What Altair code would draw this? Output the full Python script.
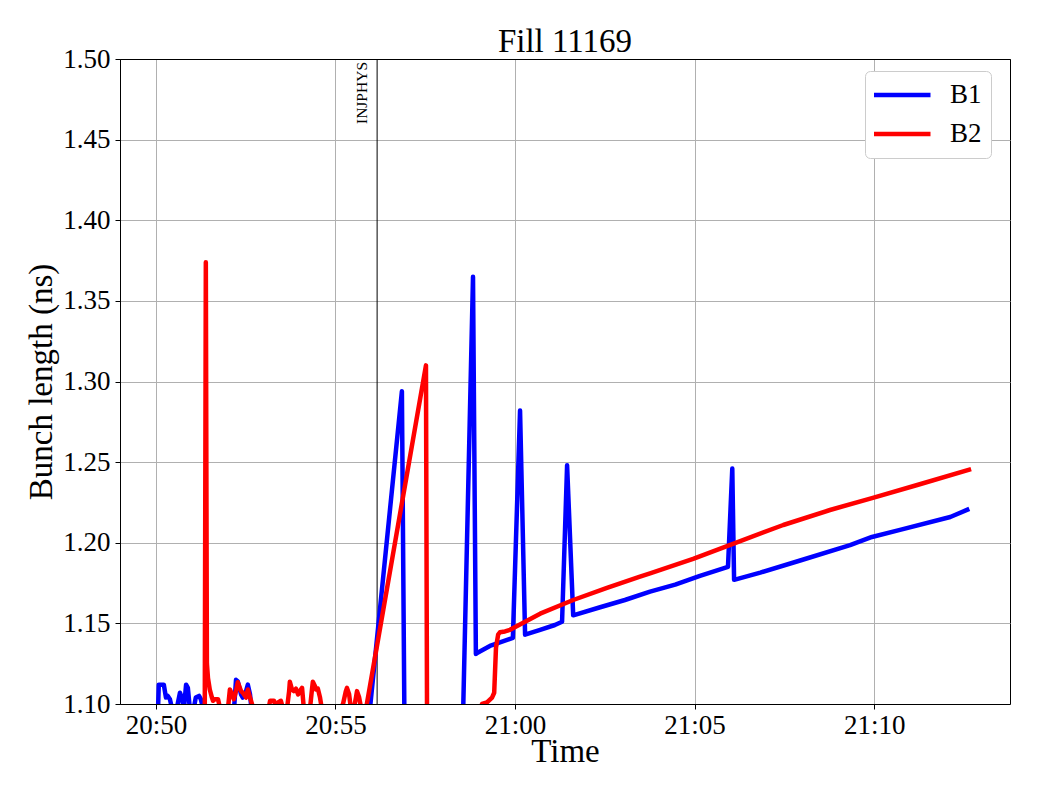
import altair as alt
import pandas as pd

# ---------------- data (minutes after 20:50:00, bunch length in ns) ----------------
BASE_TIME = "2025-08-20 20:50:00"
SERIES = ["B1", "B2"]
COLORS = ["#0000ff", "#ff0000"]

B1_MIN = [0.05, 0.08, 0.22, 0.28, 0.33, 0.39, 0.45, 0.56, 0.67, 0.72, 0.78, 0.84, 0.89,
          0.95, 1.06, 1.11, 1.20, 1.25, 1.34, 2.17, 2.23, 2.28, 2.37, 2.42, 2.51, 2.56,
          2.62, 2.67, 5.96, 6.85, 6.92, 8.55, 8.83, 8.91, 8.97, 9.30, 9.94, 10.14, 10.28,
          10.70, 11.11, 11.31, 11.45, 11.62, 12.37, 13.06, 13.76, 14.46, 15.15, 15.93,
          16.05, 16.10, 16.83, 17.94, 19.33, 19.94, 20.72, 22.12, 22.65]
B1_VAL = [1.090, 1.112, 1.112, 1.104, 1.105, 1.103, 1.097, 1.095, 1.107, 1.104, 1.097, 1.112, 1.110,
          1.096, 1.098, 1.104, 1.105, 1.103, 1.095, 1.095, 1.115, 1.114, 1.106, 1.104, 1.108, 1.112,
          1.106, 1.095, 1.097, 1.294, 1.090, 1.090, 1.365, 1.131, 1.132, 1.136, 1.141, 1.282, 1.143,
          1.146, 1.149, 1.151, 1.248, 1.155, 1.160, 1.1645, 1.1697, 1.174, 1.1795, 1.185,
          1.246, 1.177, 1.1815, 1.189, 1.1985, 1.2036, 1.208, 1.216, 1.221]

B2_MIN = [1.36, 1.39, 1.42, 1.45, 1.50, 1.56, 1.59, 1.64, 1.73, 1.78, 1.87, 2.01, 2.06, 2.12,
          2.17, 2.23, 2.28, 2.37, 2.42, 2.51, 2.56, 2.62, 2.65, 2.70, 2.76, 3.12, 3.18, 3.29,
          3.34, 3.40, 3.48, 3.54, 3.65, 3.71, 3.73, 3.79, 3.84, 3.90, 3.96, 4.01, 4.07, 4.12,
          4.29, 4.35, 4.37, 4.43, 4.46, 4.51, 4.57, 4.62, 5.13, 5.21, 5.29, 5.32, 5.38, 5.43,
          5.52, 5.57, 5.60, 5.66, 5.71, 5.85, 7.52, 7.55, 9.00, 9.08, 9.22, 9.36, 9.42, 9.47,
          9.53, 9.58, 9.72, 9.86, 9.94, 10.70, 11.62, 12.56, 13.48, 13.76, 14.96, 16.05,
          17.47, 18.77, 19.94, 21.20, 22.70]
B2_VAL = [1.090, 1.374, 1.125, 1.116, 1.109, 1.104, 1.102, 1.103, 1.103, 1.098, 1.095, 1.098, 1.109, 1.106,
          1.103, 1.108, 1.1135, 1.108, 1.107, 1.104, 1.109, 1.104, 1.102, 1.098, 1.095, 1.095, 1.102, 1.102,
          1.098, 1.101, 1.102, 1.097, 1.097, 1.108, 1.1138, 1.109, 1.108, 1.1095, 1.106, 1.108, 1.110, 1.097,
          1.097, 1.110, 1.1138, 1.111, 1.109, 1.1095, 1.104, 1.097, 1.097, 1.100, 1.108, 1.110, 1.106, 1.097,
          1.098, 1.104, 1.108, 1.104, 1.098, 1.097, 1.310, 1.090, 1.090, 1.100, 1.101, 1.104, 1.107, 1.135,
          1.143, 1.1445, 1.145, 1.146, 1.147, 1.156, 1.1645, 1.172, 1.179, 1.181, 1.190, 1.1992,
          1.211, 1.2203, 1.2277, 1.2358, 1.2457]

EVENT_MIN = [6.16]
EVENT_LABEL = ["INJPHYS"]

X_TICK_LABELS = ["20:50", "20:55", "21:00", "21:05", "21:10"]
X_RANGE = ["20:49:00", "21:13:47"]
Y_TICKS = [1.10, 1.15, 1.20, 1.25, 1.30, 1.35, 1.40, 1.45, 1.50]
Y_RANGE = [1.10, 1.50]

TITLE = "Fill 11169"
FONT = "Liberation Serif"

# ---------------- build tables ----------------
base = pd.Timestamp(BASE_TIME)


def to_iso(minutes):
    ts = base + pd.to_timedelta(minutes, unit="min")
    return [t.strftime("%Y-%m-%dT%H:%M:%S.%f")[:-3] for t in ts]


df = pd.concat([
    pd.DataFrame({"time": to_iso(B1_MIN), "value": B1_VAL, "beam": SERIES[0]}),
    pd.DataFrame({"time": to_iso(B2_MIN), "value": B2_VAL, "beam": SERIES[1]}),
], ignore_index=True)

ev = pd.DataFrame({"time": to_iso(EVENT_MIN), "label": EVENT_LABEL})


def dt(hms):
    parts = [int(p) for p in hms.split(":")]
    while len(parts) < 3:
        parts.append(0)
    return alt.DateTime(year=base.year, month=base.month, date=base.day,
                        hours=parts[0], minutes=parts[1], seconds=parts[2])


x_scale = alt.Scale(domain=[dt(X_RANGE[0]), dt(X_RANGE[1])])
x_axis = alt.Axis(values=[dt(l) for l in X_TICK_LABELS], format="%H:%M", title="Time",
                  labelPadding=3, titlePadding=-3)
y_scale = alt.Scale(domain=Y_RANGE, nice=False, zero=False)
y_axis = alt.Axis(values=Y_TICKS, format=".2f", title="Bunch length (ns)",
                  labelPadding=5, titlePadding=4,
                  gridColor={"condition": {"test": "datum.value >= 1.4999", "value": "black"},
                             "value": "#b0b0b0"})

rule = alt.Chart(ev).mark_rule(color="black", strokeWidth=1).encode(
    x=alt.X("time:T", scale=x_scale, axis=x_axis)
)

text = alt.Chart(ev).mark_text(angle=270, align="right", baseline="alphabetic", xOffset=-10,
                               font=FONT, fontSize=15.5, color="black").encode(
    x=alt.X("time:T", scale=x_scale, axis=x_axis),
    y=alt.value(3),
    text="label:N",
)

lines = alt.Chart(df).mark_line(strokeWidth=4.5, clip=True, strokeJoin="round").encode(
    x=alt.X("time:T", scale=x_scale, axis=x_axis),
    y=alt.Y("value:Q", scale=y_scale, axis=y_axis),
    color=alt.Color("beam:N", scale=alt.Scale(domain=SERIES, range=COLORS),
                    legend=alt.Legend(orient="none", legendX=745, legendY=12, title=None,
                                      symbolType="stroke", symbolSize=3481,
                                      symbolStrokeWidth=4.5, symbolOffset=-5,
                                      labelFont=FONT, labelFontSize=27,
                                      labelColor="black", labelOffset=17, padding=9,
                                      clipHeight=30, rowPadding=9,
                                      strokeColor="#cccccc", fillColor="white",
                                      cornerRadius=5)),
)

chart = alt.layer(rule, text, lines).properties(
    width=890, height=645,
    title=alt.Title(TITLE, font=FONT, fontSize=33, fontWeight="normal", color="black",
                    anchor="middle", offset=8, dy=22),
    autosize=alt.AutoSizeParams(type="none"),
    padding={"left": 112, "top": 51, "right": 22, "bottom": 88},
).configure_axis(
    labelFont=FONT, titleFont=FONT, labelFontSize=27, titleFontSize=33,
    labelColor="black", titleColor="black", titleFontWeight="normal",
    domainColor="black", domainWidth=1, tickColor="black", tickSize=5, tickWidth=1,
    gridColor="#b0b0b0", gridWidth=1,
).configure_view(stroke="black", strokeWidth=1)

chart.save("out.html", embed_options={"renderer": "svg", "actions": False})
